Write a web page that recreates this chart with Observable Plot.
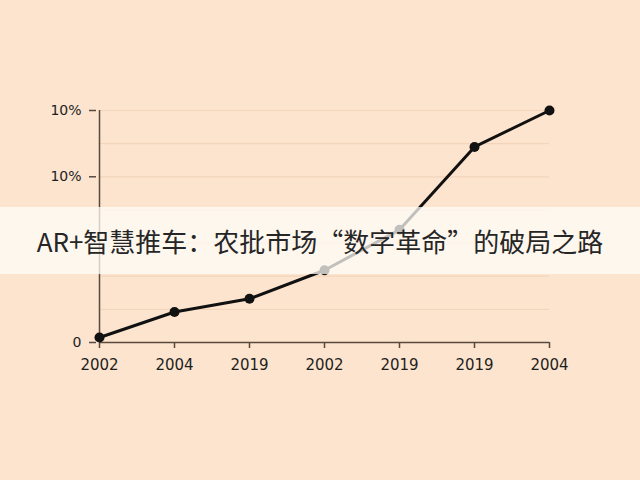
<!DOCTYPE html>
<html>
<head>
<meta charset="utf-8">
<script src="https://cdn.jsdelivr.net/npm/d3@7"></script>
<script src="https://cdn.jsdelivr.net/npm/@observablehq/plot@0.6"></script>
<style>
  html, body { margin: 0; padding: 0; background: #fce4ce; }
  #wrap { position: relative; width: 640px; height: 480px; overflow: hidden; background: #fce4ce; }
  #banner {
    position: absolute; left: 0; top: 207px; width: 640px; height: 67px;
    background: rgba(255, 253, 250, 0.74);
    display: flex; align-items: center; justify-content: center;
    font-family: "Noto Sans CJK SC", "Noto Sans", sans-serif;
    font-size: 26px; color: #262626; white-space: nowrap;
  }
</style>
</head>
<body>
<div id="wrap"><div id="chart"></div><div id="banner">AR+智慧推车：农批市场“数字革命”的破局之路</div></div>
<script>
const xLabels = ["2002", "2004", "2019", "2002", "2019", "2019", "2004"];
const values = [0.15, 0.92, 1.32, 2.18, 3.4, 5.9, 7.0];
const yTicks = [0, 5, 7];
const yTickLabels = ["0", "10%", "10%"];
const gridLines = [0, 1, 2, 3, 4, 5, 6, 7];

const idx = xLabels.map((_, i) => i);
const data = idx.map(i => ({i, v: values[i]}));

const chart = Plot.plot({
  width: 640,
  height: 480,
  marginTop: 110,
  marginBottom: 138,
  marginLeft: 96,
  marginRight: 89,
  style: {background: "#fce4ce", fontFamily: "DejaVu Sans, sans-serif", fontSize: "15px", color: "#222"},
  x: {type: "point", domain: idx, padding: 0},
  y: {domain: [0, 7]},
  marks: [
    Plot.ruleY(gridLines.slice(1), {x1: 0, x2: 6, stroke: "#f3d5bb", strokeWidth: 1.2}),
    Plot.axisX({ticks: idx, tickFormat: i => xLabels[i], tickSize: 6, tickPadding: 11, fontSize: 15, stroke: "#5a4a3e", strokeWidth: 1.5, label: null, fill: "#1e1e1e"}),
    Plot.axisY({ticks: yTicks, tickFormat: d => yTickLabels[yTicks.indexOf(d)], tickSize: 7, tickPadding: 8, fontSize: 14, stroke: "#5a4a3e", strokeWidth: 1.5, label: null, fill: "#1e1e1e"}),
    Plot.ruleX([0], {y1: 0, y2: 7, stroke: "#5a4a3e", strokeWidth: 1.5}),
    Plot.ruleY([0], {x1: 0, x2: 6, stroke: "#5a4a3e", strokeWidth: 1.5}),
    Plot.line(data, {x: "i", y: "v", stroke: "#111", strokeWidth: 3}),
    Plot.dot(data, {x: "i", y: "v", fill: "#111", r: 5})
  ]
});
document.getElementById("chart").appendChild(chart);
</script>
</body>
</html>
